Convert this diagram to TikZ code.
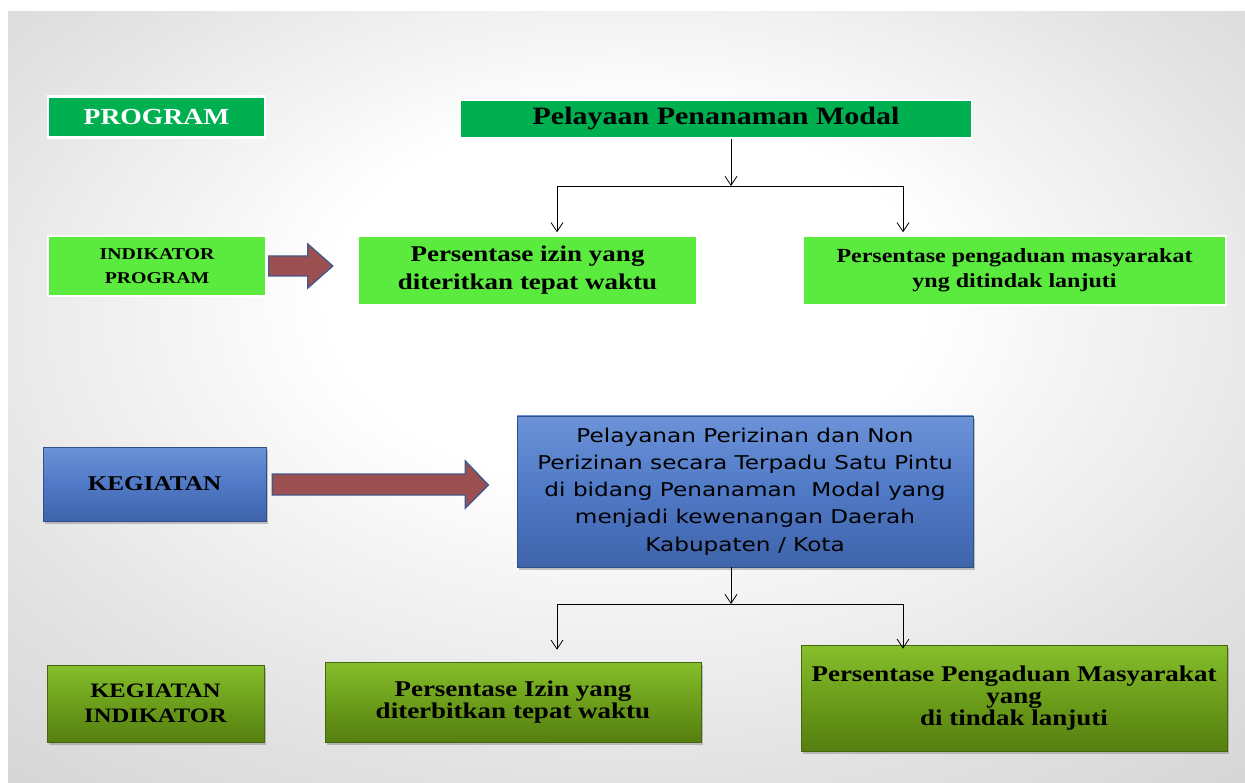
\documentclass[tikz,border=0pt]{standalone}
\usepackage{fontspec}
\setmainfont[FakeStretch=1.2]{Liberation Serif}
\newfontfamily\boxsans[FakeStretch=1.22]{DejaVu Sans}
\usetikzlibrary{arrows.meta,shadows}

\definecolor{hdrgreen}{HTML}{00B050}
\definecolor{litegreen}{HTML}{5BEA3E}
\definecolor{blueTop}{HTML}{6C93D8}
\definecolor{blueMid}{HTML}{5079C6}
\definecolor{blueBot}{HTML}{3E64AA}
\definecolor{oliveTop}{HTML}{86BF2C}
\definecolor{oliveMid}{HTML}{6C9E1B}
\definecolor{oliveBot}{HTML}{557F10}
\definecolor{arrowfill}{HTML}{9C4F50}
\definecolor{arrowedge}{HTML}{44588A}

\pgfdeclareradialshading{pagebg}{\pgfpoint{0bp}{8bp}}{%
  color(0bp)=(white); color(12bp)=(white); color(30bp)=(black!12); color(45bp)=(black!20); color(60bp)=(black!22)}

\tikzset{
  hdrbox/.style={fill=hdrgreen, draw=white, line width=2.5pt, inner sep=0pt, align=center},
  litebox/.style={fill=litegreen, draw=white, line width=1.5pt, inner sep=0pt, align=center},
  bluebox/.style={top color=blueTop, bottom color=blueBot, middle color=blueMid, draw=blueBot!80!black,
    line width=0.6pt, inner sep=0pt, align=center,
    drop shadow={opacity=0.45, shadow xshift=1.5pt, shadow yshift=-3pt}},
  olivebox/.style={top color=oliveTop, bottom color=oliveBot, middle color=oliveMid, draw=oliveBot!80!black,
    line width=0.6pt, inner sep=0pt, align=center,
    drop shadow={opacity=0.45, shadow xshift=1.5pt, shadow yshift=-3pt}},
  flow/.style={draw=black, line width=0.8pt, -{Straight Barb[length=9pt,width=12pt]}},
  flowline/.style={draw=black, line width=0.8pt},
  blockarrow/.style={fill=arrowfill, draw=arrowedge, line width=1.4pt, line join=miter},
}

\begin{document}
\begin{tikzpicture}[x=1pt,y=-1pt]
\useasboundingbox (0,0) rectangle (1245,783);
\fill[white] (0,0) rectangle (1245,783);
\shade[shading=pagebg] (8,12) rectangle (1245,783);

% ---- program level ----
\node[hdrbox, minimum width=217pt, minimum height=41pt, text=white,
  font=\fontsize{23}{26}\selectfont\bfseries] (prog) at (156.5,117) {PROGRAM};
\node[hdrbox, minimum width=512pt, minimum height=38pt,
  font=\fontsize{25}{28}\selectfont\bfseries] (pmodal) at (716,119) {Pelayaan Penanaman Modal};

\node[litebox, minimum width=218pt, minimum height=60pt,
  font=\fontsize{16.5}{24}\selectfont\bfseries] (indp) at (157,266) {INDIKATOR\\PROGRAM};
\node[litebox, minimum width=339pt, minimum height=69pt,
  font=\fontsize{22.5}{28}\selectfont\bfseries] (ind1) at (527.5,270.5) {Persentase izin yang\\diteritkan tepat waktu};
\node[litebox, minimum width=423pt, minimum height=69pt,
  font=\fontsize{20}{25}\selectfont\bfseries] (ind2) at (1014.5,270.5) {Persentase pengaduan masyarakat\\yng ditindak lanjuti};

% ---- activity level ----
\node[bluebox, minimum width=223pt, minimum height=74pt,
  font=\fontsize{21}{24}\selectfont\bfseries] (keg) at (154.5,484) {KEGIATAN};
\node[bluebox, minimum width=456pt, minimum height=151pt,
  font=\fontsize{19}{27.2}\selectfont\boxsans] (kegbox) at (745,491.5)
  {Pelayanan Perizinan dan Non\\Perizinan secara Terpadu Satu Pintu\\di bidang Penanaman\ \ Modal yang\\menjadi kewenangan Daerah\\Kabupaten / Kota};

\node[olivebox, minimum width=217pt, minimum height=77pt,
  font=\fontsize{20.5}{25}\selectfont\bfseries] (kind) at (155.5,703.5) {KEGIATAN\\INDIKATOR};
\node[olivebox, minimum width=376pt, minimum height=80pt,
  font=\fontsize{22.5}{22}\selectfont\bfseries] (kind1) at (513,702) {Persentase Izin yang\\diterbitkan tepat waktu};
\node[olivebox, minimum width=426pt, minimum height=106pt,
  font=\fontsize{22.5}{22}\selectfont\bfseries] (kind2) at (1014,698) {Persentase Pengaduan Masyarakat\\yang\\di tindak lanjuti};

% ---- block arrows ----
\draw[blockarrow] (indp.east) ++(2,-10) -- ++(39,0) -- ++(0,-12) -- ++(25,22) -- ++(-25,22) -- ++(0,-12) -- ++(-39,0) -- cycle;
\draw[blockarrow] (keg.east) ++(6,-10) -- ++(193,0) -- ++(0,-13) -- ++(23,24) -- ++(-23,23) -- ++(0,-13) -- ++(-193,0) -- cycle;

% ---- connectors: program to indicators ----
\coordinate (ja) at (731,186);
\coordinate (jl) at (557,186);
\coordinate (jr) at (903,186);
\draw[flow] (pmodal.south -| ja) -- (ja);
\draw[flowline] (jl) -- (jr);
\draw[flow] (jl) -- ([yshift=3pt]jl |- ind1.north);
\draw[flow] (jr) -- ([yshift=3pt]jr |- ind2.north);

% ---- connectors: activity to indicators ----
\coordinate (kb) at (731,604);
\coordinate (kl) at (557,604);
\coordinate (kr) at (903,604);
\draw[flow] (kegbox.south -| kb) -- (kb);
\draw[flowline] (kl) -- (kr);
\draw[flow] (kl) -- ([yshift=12pt]kl |- kind1.north);
\draw[flow] (kr) -- ([yshift=-4pt]kr |- kind2.north);
\end{tikzpicture}
\end{document}
